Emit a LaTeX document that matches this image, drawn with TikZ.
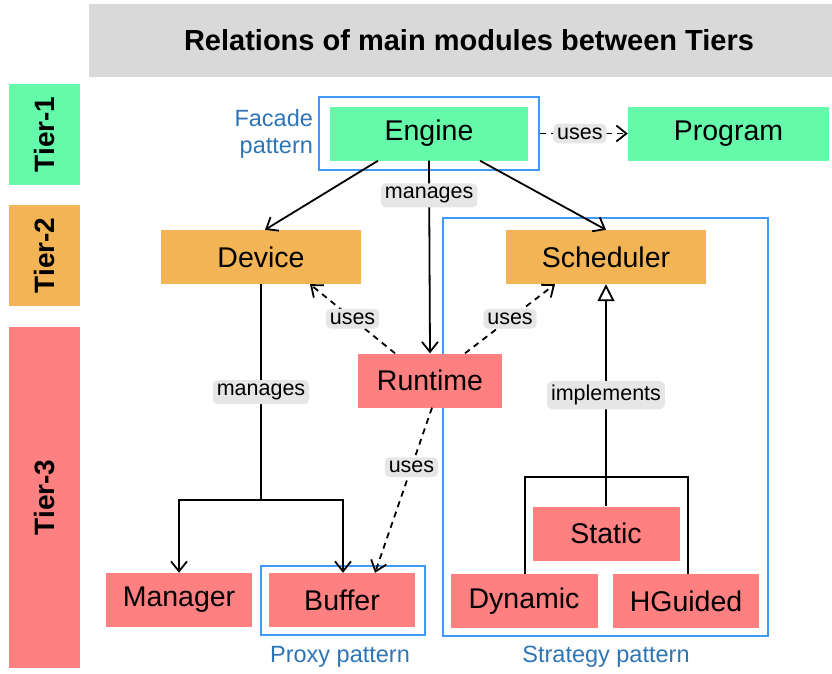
\documentclass[tikz,border=0pt]{standalone}
\usepackage{fontspec}
\setmainfont{Liberation Sans}
\usetikzlibrary{arrows.meta}

\definecolor{tierone}{HTML}{64FAAA}
\definecolor{tiertwo}{HTML}{F2B454}
\definecolor{tierthree}{HTML}{FF8080}
\definecolor{titlegray}{HTML}{D9D9D9}
\definecolor{labelgray}{HTML}{E6E6E6}
\definecolor{patternblue}{HTML}{3D9BF5}
\definecolor{patterntext}{HTML}{2E75B6}

\begin{document}
\begin{tikzpicture}[x=1pt, y=-1pt,
  module/.style={rectangle, minimum height=54pt, inner sep=0pt, font=\fontsize{28.5}{32}\selectfont},
  tierbox/.style={rectangle, minimum height=71pt, inner sep=0pt, rotate=90, font=\fontsize{28}{32}\selectfont\bfseries},
  lbl/.style={fill=labelgray, rounded corners=5pt, inner sep=4pt, font=\fontsize{21.5}{24}\selectfont},
  patternbox/.style={draw=patternblue, line width=1.8pt, inner sep=0pt},
  patternlbl/.style={text=patterntext, font=\fontsize{23.5}{27}\selectfont},
  rel/.style={line width=1.8pt, -{Straight Barb[length=10pt, width=16pt]}},
  uses/.style={rel, dash pattern=on 6pt off 5pt},
  impl/.style={line width=1.8pt, -{Triangle[open, length=17pt, width=17pt]}}]
\useasboundingbox (0,0) rectangle (832,673);

% Title and tiers
\node[fill=titlegray, minimum width=743pt, minimum height=73pt] (titlebox) at (460.5,40.5) {};
\node[font=\fontsize{29}{34}\selectfont\bfseries] (title) at (469,40.5) {Relations of main modules between Tiers};
\node[tierbox, fill=tierone, minimum width=101pt] (tier1) at (44.5,134.5) {Tier-1};
\node[tierbox, fill=tiertwo, minimum width=101pt] (tier2) at (44.5,255.5) {Tier-2};
\node[tierbox, fill=tierthree, minimum width=341pt] (tier3) at (44.5,497.5) {Tier-3};

% Pattern boxes
\node[patternbox, minimum width=220pt, minimum height=73pt] (facade) at (429,133.5) {};
\node[patternbox, minimum width=164pt, minimum height=69pt] (proxy) at (343,600.5) {};
\node[patternbox, minimum width=325pt, minimum height=418pt] (strategy) at (605.5,427) {};
\node[patternlbl, left, align=right, inner sep=5pt] at (facade.west) {Facade\\pattern};
\node[patternlbl] at (340,657) {Proxy pattern};
\node[patternlbl] at (606,657) {Strategy pattern};

% Modules
\node[module, fill=tierone, minimum width=198pt] (engine) at (429,133.5) {Engine};
\node[module, fill=tierone, minimum width=201pt] (program) at (728.5,133.5) {Program};
\node[module, fill=tiertwo, minimum width=200pt] (device) at (261,257) {Device};
\node[module, fill=tiertwo, minimum width=200pt] (scheduler) at (606,257) {Scheduler};
\node[module, fill=tierthree, minimum width=144pt] (runtime) at (430,380.5) {Runtime};
\node[module, fill=tierthree, minimum width=146pt] (manager) at (179,600) {Manager};
\node[module, fill=tierthree, minimum width=146pt] (buffer) at (342,600) {Buffer};
\node[module, fill=tierthree, minimum width=147pt] (static) at (606,533.5) {Static};
\node[module, fill=tierthree, minimum width=147pt] (dynamic) at (524,601) {Dynamic};
\node[module, fill=tierthree, minimum width=146pt] (hguided) at (686,601) {HGuided};

\coordinate (devsplit) at (261,500);
\coordinate (stratsplit) at (606,477);

% Relations
\draw[uses] (facade.east) -- (program.west) node[lbl, midway, xshift=-4pt] {uses};
\draw[rel] ([xshift=-51pt]engine.south) -- ([xshift=4pt]device.north);
\draw[rel] ([xshift=51pt]engine.south) -- (scheduler.north);
\draw[rel] (engine.south) -- (runtime.north) node[lbl, pos=0.18] {manages};
\draw[uses] ([xshift=-35pt]runtime.north) -- ([xshift=49pt]device.south) node[lbl, midway] {uses};
\draw[uses] ([xshift=35pt]runtime.north) -- ([xshift=-51pt]scheduler.south) node[lbl, midway] {uses};
\draw[uses] ([xshift=2pt]runtime.south) -- ([xshift=33pt]buffer.north) node[lbl, pos=0.36] {uses};
\draw[line width=1.8pt] (device.south) -- (devsplit) node[lbl, midway] {manages};
\draw[rel] (devsplit) -| (manager.north);
\draw[rel] (devsplit) -| ([xshift=1pt]buffer.north);
\draw[impl] (static.north) -- (scheduler.south) node[lbl, midway] {implements};
\draw[line width=1.8pt] (stratsplit) -| ([xshift=1pt]dynamic.north);
\draw[line width=1.8pt] (stratsplit) -| ([xshift=2pt]hguided.north);
\end{tikzpicture}
\end{document}
